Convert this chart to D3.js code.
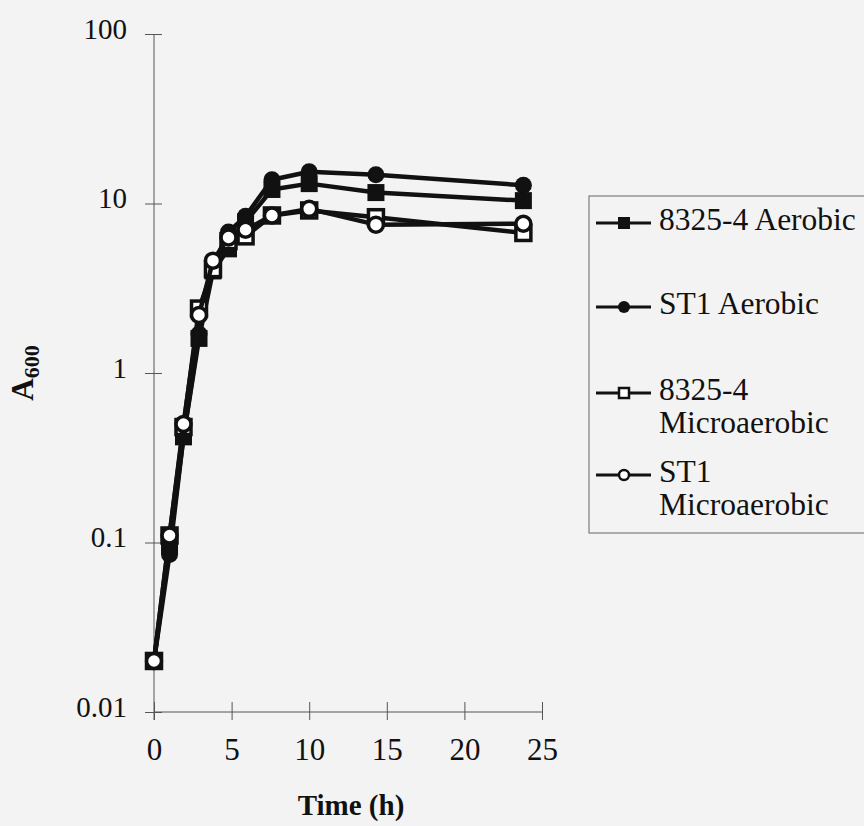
<!DOCTYPE html>
<html>
<head>
<meta charset="utf-8">
<script src="https://cdn.jsdelivr.net/npm/d3@7"></script>
<style>
  html, body { margin: 0; padding: 0; background: #f3f3f3; }
  svg { display: block; font-family: "Liberation Serif", "Times New Roman", serif; }
</style>
</head>
<body>
<svg id="chart" width="864" height="826"></svg>
<script>
// sampling times (h)
var times = [0, 1, 1.9, 2.9, 3.8, 4.8, 5.9, 7.6, 10, 14.3, 23.8];
// A600 readings per culture
var aerobic8325 = [0.02, 0.095, 0.42, 1.6, 4.0, 5.4, 7.8, 12.1, 13.1, 11.6, 10.4];
var aerobicST1 = [0.02, 0.085, 0.42, 1.7, 4.3, 6.8, 8.4, 13.8, 15.4, 14.8, 12.8];
var micro8325 = [0.02, 0.11, 0.48, 2.4, 4.1, 6.0, 6.4, 8.5, 9.1, 8.3, 6.7];
var microST1 = [0.02, 0.11, 0.5, 2.2, 4.6, 6.3, 7.0, 8.5, 9.3, 7.5, 7.6];

var xTicks = [0, 5, 10, 15, 20, 25];
var yTicks = [0.01, 0.1, 1, 10, 100];
var yTickLabels = ["0.01", "0.1", "1", "10", "100"];

var series = [
  {name: ["8325-4 Aerobic"], values: aerobic8325, shape: "square", filled: true},
  {name: ["ST1 Aerobic"], values: aerobicST1, shape: "circle", filled: true},
  {name: ["8325-4", "Microaerobic"], values: micro8325, shape: "square", filled: false},
  {name: ["ST1", "Microaerobic"], values: microST1, shape: "circle", filled: false}
];

var svg = d3.select("#chart");

var x = d3.scaleLinear().domain([0, 25]).range([154, 542]);
var y = d3.scaleLog().domain([0.01, 100]).range([712, 34]);

// y axis - ticks cross the line
var yAxis = svg.append("g")
  .attr("transform", "translate(" + x(0) + ",0)")
  .call(d3.axisLeft(y).tickValues(yTicks).tickSize(9).tickPadding(18)
    .tickFormat(function(d, i) { return yTickLabels[i]; }));
yAxis.select(".domain").attr("stroke", "#555").attr("stroke-width", 1)
  .attr("d", "M0," + y(100) + "V" + (y(0.01) + 8));
yAxis.selectAll(".tick line").attr("x1", 8).attr("stroke", "#555");
yAxis.selectAll(".tick text").attr("font-size", 29).attr("fill", "#111")
  .attr("font-family", "Liberation Serif").attr("y", -5);

// x axis
var xAxis = svg.append("g")
  .attr("transform", "translate(0," + y(0.01) + ")")
  .call(d3.axisBottom(x).tickValues(xTicks).tickSize(-10).tickPadding(26));
xAxis.select(".domain").attr("stroke", "#555").attr("stroke-width", 1)
  .attr("d", "M" + x(0) + ",0H" + x(25));
xAxis.selectAll(".tick line").attr("y1", 8).attr("stroke", "#555");
xAxis.selectAll(".tick text").attr("font-size", 31).attr("fill", "#111")
  .attr("font-family", "Liberation Serif");

// axis titles
svg.append("text")
  .attr("x", x(12.5) + 3).attr("y", 815)
  .attr("text-anchor", "middle")
  .attr("font-size", 29).attr("font-weight", "bold").attr("fill", "#111")
  .text("Time (h)");

var yt = svg.append("text")
  .attr("transform", "translate(33,373) rotate(-90)")
  .attr("text-anchor", "middle")
  .attr("font-weight", "bold").attr("fill", "#111");
yt.append("tspan").attr("font-size", 31).text("A");
yt.append("tspan").attr("font-size", 22).attr("dy", 6).text("600");

// lines and markers
var line = d3.line()
  .x(function(d, i) { return x(times[i]); })
  .y(function(d) { return y(d); });

function drawMarker(g, shape, filled, cx, cy, size, sw) {
  var fill = filled ? "#111" : "#fff";
  if (shape === "square") {
    g.append("rect")
      .attr("x", cx - size / 2).attr("y", cy - size / 2)
      .attr("width", size).attr("height", size)
      .attr("fill", fill).attr("stroke", "#111").attr("stroke-width", filled ? 0 : sw);
  } else {
    g.append("circle")
      .attr("cx", cx).attr("cy", cy).attr("r", size / 2)
      .attr("fill", fill).attr("stroke", "#111").attr("stroke-width", filled ? 0 : sw);
  }
}

series.forEach(function(s) {
  var g = svg.append("g");
  g.append("path")
    .datum(s.values)
    .attr("d", line)
    .attr("fill", "none")
    .attr("stroke", "#111")
    .attr("stroke-width", 4.5)
    .attr("stroke-linejoin", "round");
  s.values.forEach(function(v, i) {
    var size = s.filled ? 17 : 15;
    drawMarker(g, s.shape, s.filled, x(times[i]), y(v), size, 3.5);
  });
});

// legend
var lg = svg.append("g");
lg.append("rect")
  .attr("x", 589).attr("y", 196).attr("width", 290).attr("height", 337)
  .attr("fill", "none").attr("stroke", "#666").attr("stroke-width", 1);

var legendY = [223, 307, 393, 475];
series.forEach(function(s, i) {
  var ly = legendY[i];
  lg.append("line")
    .attr("x1", 596).attr("x2", 651).attr("y1", ly).attr("y2", ly)
    .attr("stroke", "#111").attr("stroke-width", 3);
  drawMarker(lg, s.shape, s.filled, 624, ly, s.filled ? 12 : 10, 2.5);
  var t = lg.append("text")
    .attr("x", 659).attr("y", ly + 7)
    .attr("font-size", 31.5).attr("fill", "#111");
  s.name.forEach(function(part, k) {
    t.append("tspan").attr("x", 659).attr("dy", k === 0 ? 0 : 33).text(part);
  });
});
</script>
</body>
</html>
